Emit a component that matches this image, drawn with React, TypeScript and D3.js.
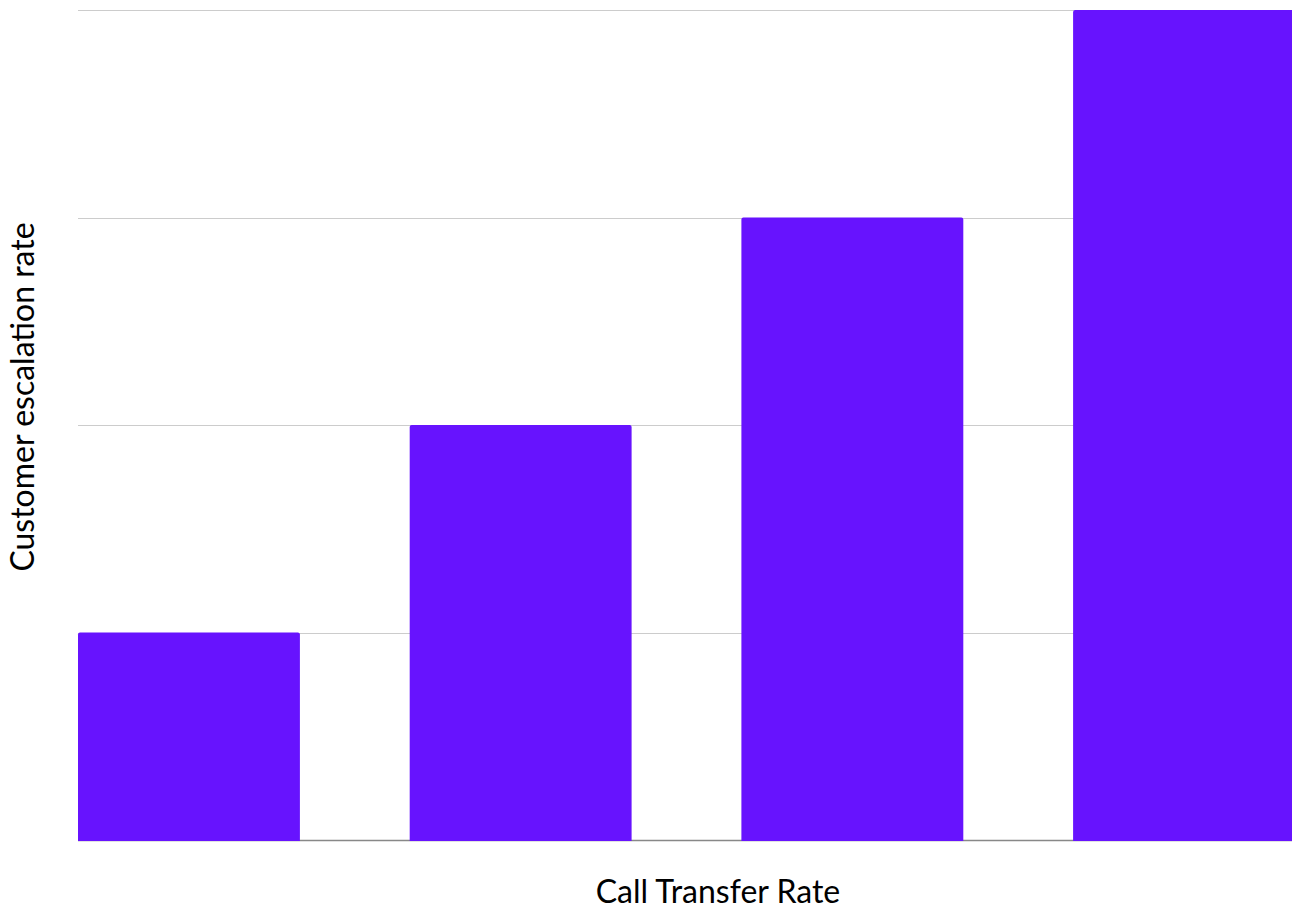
import React from "react";
import * as d3 from "d3";

const categories = ["A", "B", "C", "D"];
const values = [1, 2, 3, 4];
const yTicks = [0, 1, 2, 3, 4];
const xTitle = "Call Transfer Rate";
const yTitle = "Customer escalation rate";

const W = 1292;
const H = 909;
// The plot runs a few pixels past the right edge of the canvas.
const margin = { top: 10, right: -3, bottom: 69, left: 78 };

export default function App() {
  const x = d3
    .scaleBand<string>()
    .domain(categories)
    .range([margin.left, W - margin.right])
    .paddingInner(0.331)
    .paddingOuter(0);
  const y = d3
    .scaleLinear()
    .domain([0, 4])
    .range([H - margin.bottom, margin.top]);

  const r = 2;
  const barPath = (cx: number, w: number, top: number, bottom: number) =>
    `M${cx},${bottom + 1}V${top + r}Q${cx},${top} ${cx + r},${top}H${cx + w - r}Q${cx + w},${top} ${cx + w},${top + r}V${bottom + 1}Z`;

  return (
    <svg
      width={W}
      height={H}
      style={{ position: "absolute", left: 0, top: 0, fontFamily: "Lato, sans-serif" }}
    >
      <rect width={W} height={H} fill="#fff" />
      {yTicks.slice(1).map((t) => (
        <line
          key={t}
          x1={margin.left}
          x2={W}
          y1={Math.round(y(t)) + 0.5}
          y2={Math.round(y(t)) + 0.5}
          stroke="#cccccc"
          strokeWidth={1}
        />
      ))}
      <line
        x1={margin.left}
        x2={W}
        y1={y(0) + 0.5}
        y2={y(0) + 0.5}
        stroke="#888888"
        strokeWidth={1.5}
      />
      {categories.map((c, i) => (
        <path
          key={c}
          d={barPath(x(c)!, x.bandwidth(), y(values[i]), y(0))}
          fill="#6713fe"
        />
      ))}
      <text x={718} y={903} textAnchor="middle" fontSize={32} fill="#000">
        {xTitle}
      </text>
      <text
        transform={`translate(34,397) rotate(-90)`}
        textAnchor="middle"
        fontSize={32}
        fill="#000"
      >
        {yTitle}
      </text>
    </svg>
  );
}
